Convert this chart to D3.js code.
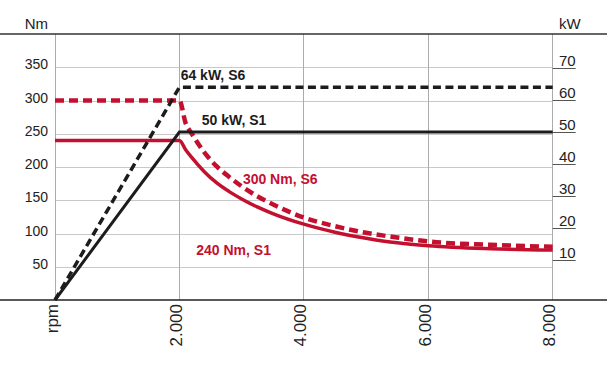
<!DOCTYPE html>
<html>
<head>
<meta charset="utf-8">
<script src="https://cdn.jsdelivr.net/npm/d3@7"></script>
<style>
  body { margin: 0; background: #fff; }
  svg { display: block; font-family: "Liberation Sans", Arial, sans-serif; }
  .grid line { shape-rendering: crispEdges; }
</style>
</head>
<body>
<script>
(function() {

//------------------------------------------------------------------------------
//
// Data
//
//------------------------------------------------------------------------------

// torque curves (Nm) sampled along rpm
var torqueRpm = [0, 2000, 2100, 2200, 2400, 2600, 2800, 3000, 3250, 3500, 4000, 4500, 5000, 5500, 6000, 7000, 8000];
var torqueS1  = [240, 240, 226, 214, 193, 176, 163, 152, 140, 130, 114, 102, 93, 86, 81.5, 77, 75];
var torqueS6  = [300, 300, 266, 250, 222, 201, 185, 171, 156, 144, 124, 111, 101, 94, 88, 83, 80];

// power curves (kW)
var powerRpm = [0, 2000, 8000];
var powerS1  = [0, 50, 50];
var powerS6  = [0, 64, 64];

var rpmTicks = [0, 2000, 4000, 6000, 8000];
var nmTicks  = [50, 100, 150, 200, 250, 300, 350];
var kwTicks  = [10, 20, 30, 40, 50, 60, 70];

var labels = [
  {text: "64 kW, S6",  rpm: 2020, kw: 64, red: false},
  {text: "50 kW, S1",  rpm: 2360, kw: 50, red: false},
  {text: "300 Nm, S6", rpm: 3020, nm: 175, red: true},
  {text: "240 Nm, S1", rpm: 2270, nm: 68, red: true}
];

//------------------------------------------------------------------------------
//
// Setup
//
//------------------------------------------------------------------------------

var width = 607, height = 372;
var left = 55, right = 552.7, top = 34, bottom = 300;
var red = "#c4102f", ink = "#1c1c1c";

var svg = d3.select("body").append("svg")
  .attr("width", width)
  .attr("height", height);

var x = d3.scaleLinear().domain([0, 8000]).range([left, right]);
var yNm = d3.scaleLinear().domain([0, 400]).range([bottom, top]);
// the kW ticks sit a little above the baseline, ramps still start at the origin
var yKw = d3.scaleLinear().domain([0, 10, 70]).range([bottom, 260, 68]);

//--------------------------------------
// Grid
//--------------------------------------

svg.append("g")
  .attr("class", "grid")
  .attr("transform", "translate(" + left + ",0)")
  .call(d3.axisLeft(yNm).tickValues(nmTicks).tickSize(-(right - left)).tickPadding(7))
  .call(function(g) {
    g.select(".domain").remove();
    g.selectAll("line").attr("stroke", "#c9c9c9");
    g.selectAll("text")
      .attr("dy", "0.12em")
      .attr("fill", "#222")
      .style("font-size", "14px")
      .style("font-family", null);
  });

svg.append("g")
  .attr("class", "grid")
  .selectAll("line")
  .data(rpmTicks)
  .join("line")
    .attr("x1", function(d) { return x(d); })
    .attr("x2", function(d) { return x(d); })
    .attr("y1", top)
    .attr("y2", bottom)
    .attr("stroke", "#ababab");

// frame lines
svg.append("line")
  .attr("x1", 0).attr("x2", width)
  .attr("y1", top).attr("y2", top)
  .attr("stroke", "#333").attr("stroke-width", 1.5);
svg.append("line")
  .attr("x1", 0).attr("x2", width)
  .attr("y1", bottom).attr("y2", bottom)
  .attr("stroke", "#222").attr("stroke-width", 1.6);

//--------------------------------------
// Axes
//--------------------------------------

svg.append("g")
  .attr("transform", "translate(0," + bottom + ")")
  .call(d3.axisBottom(x).tickValues(rpmTicks).tickSize(0)
    .tickFormat(function(d) { return d === 0 ? "rpm" : d3.format(",")(d).replace(",", "."); }))
  .call(function(g) {
    g.select(".domain").remove();
    g.selectAll("text")
      .attr("transform", "translate(0,4) rotate(-90)")
      .attr("y", 0)
      .attr("x", 0)
      .attr("dy", "2px")
      .attr("text-anchor", "end")
      .attr("fill", "#222")
      .style("font-size", "17px")
      .style("font-family", null);
  });

svg.append("g")
  .attr("transform", "translate(" + right + ",0)")
  .call(d3.axisRight(yKw).tickValues(kwTicks).tickSize(23))
  .call(function(g) {
    g.select(".domain").remove();
    g.selectAll("line").attr("stroke", "#555");
    g.selectAll("text")
      .attr("x", 23)
      .attr("dy", "-3px")
      .attr("text-anchor", "end")
      .attr("fill", "#222")
      .style("font-size", "15px")
      .style("font-family", null);
  });

svg.append("text")
  .attr("x", 48).attr("y", 29)
  .attr("text-anchor", "end")
  .attr("fill", "#222")
  .style("font-size", "15px")
  .text("Nm");

svg.append("text")
  .attr("x", 559).attr("y", 29)
  .attr("fill", "#222")
  .style("font-size", "15px")
  .text("kW");

//--------------------------------------
// Curves
//--------------------------------------

var torqueLine = d3.line()
  .x(function(d) { return x(d[0]); })
  .y(function(d) { return yNm(d[1]); })
  .curve(d3.curveMonotoneX);

var powerLine = d3.line()
  .x(function(d) { return x(d[0]); })
  .y(function(d) { return yKw(d[1]); });

var series = [
  {path: torqueLine(d3.zip(torqueRpm, torqueS1)), color: red, w: 3.5, dash: null},
  {path: torqueLine(d3.zip(torqueRpm, torqueS6)), color: red, w: 4.5, dash: "9,5"},
  {path: powerLine(d3.zip(powerRpm, powerS1)), color: ink, w: 3, dash: null},
  {path: powerLine(d3.zip(powerRpm, powerS6)), color: ink, w: 3.5, dash: "8,4.5"}
];

svg.append("g")
  .selectAll("path")
  .data(series)
  .join("path")
    .attr("d", function(d) { return d.path; })
    .attr("fill", "none")
    .attr("stroke", function(d) { return d.color; })
    .attr("stroke-width", function(d) { return d.w; })
    .attr("stroke-dasharray", function(d) { return d.dash; })
    .attr("stroke-linejoin", "miter");

//--------------------------------------
// Labels
//--------------------------------------

svg.append("g")
  .selectAll("text")
  .data(labels)
  .join("text")
    .attr("x", function(d) { return x(d.rpm); })
    .attr("y", function(d) { return d.kw !== undefined ? yKw(d.kw) - 7 : yNm(d.nm); })
    .attr("fill", function(d) { return d.red ? red : ink; })
    .style("font-size", "14px")
    .style("font-weight", "bold")
    .text(function(d) { return d.text; });

})();
</script>
</body>
</html>
